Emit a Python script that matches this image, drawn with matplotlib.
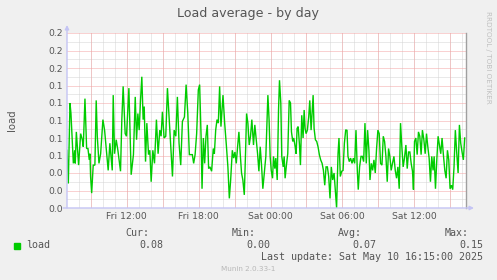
import matplotlib
matplotlib.use('Agg')

import matplotlib.pyplot as plt
import matplotlib.patches as patches
import numpy as np

# hours since Fri 00:00
hours = [7.0, 7.11, 7.25, 7.33, 7.53, 7.64, 7.69, 7.78, 7.97, 8.14, 8.28, 8.36,
         8.5, 8.64, 8.75, 8.86, 8.92, 8.97, 9.06, 9.19, 9.33, 9.44, 9.53, 9.67,
         9.81, 10.0, 10.14, 10.28, 10.44, 10.58, 10.78, 10.86, 10.97, 11.11, 11.25,
         11.47, 11.58, 11.69, 11.86, 11.97, 12.17, 12.36, 12.55, 12.7, 12.81, 12.92,
         13.03, 13.14, 13.25, 13.36, 13.45, 13.56, 13.67, 13.81, 13.92, 14.03, 14.17,
         14.31, 14.47, 14.61, 14.75, 14.86, 14.97, 15.11, 15.25, 15.39, 15.56, 15.7,
         15.81, 15.95, 16.09, 16.22, 16.36, 16.5, 16.64, 16.81, 16.95, 17.09, 17.22,
         17.36, 17.47, 17.58, 17.7, 17.83, 17.97, 18.08, 18.2, 18.28, 18.39, 18.5,
         18.61, 18.72, 18.83, 18.94, 19.08, 19.22, 19.31, 19.42, 19.53, 19.64, 19.75,
         19.86, 20.03, 20.17, 20.31, 20.44, 20.56, 20.67, 20.81, 20.92, 21.03, 21.14,
         21.25, 21.36, 21.47, 21.58, 21.69, 21.81, 21.92, 22.0, 22.11, 22.22, 22.33,
         22.44, 22.58, 22.69, 22.81, 22.92, 23.03, 23.14, 23.25, 23.36, 23.5, 23.61,
         23.68, 23.78, 23.88, 23.97, 24.06, 24.17, 24.25, 24.36, 24.44, 24.56, 24.67,
         24.75, 24.86, 24.94, 25.06, 25.14, 25.22, 25.33, 25.44, 25.56, 25.67, 25.75,
         25.86, 25.94, 26.06, 26.14, 26.22, 26.31, 26.42, 26.5, 26.61, 26.72, 26.81,
         26.89, 26.97, 27.08, 27.19, 27.28, 27.39, 27.47, 27.56, 27.64, 27.75, 27.86,
         27.97, 28.08, 28.19, 28.31, 28.42, 28.53, 28.64, 28.75, 28.86, 28.97, 29.08,
         29.19, 29.31, 29.42, 29.52, 29.64, 29.72, 29.83, 29.95, 30.06, 30.17, 30.28,
         30.39, 30.47, 30.58, 30.69, 30.81, 30.92, 31.03, 31.14, 31.25, 31.33, 31.44,
         31.56, 31.67, 31.78, 31.89, 32.0, 32.11, 32.22, 32.31, 32.42, 32.53, 32.64,
         32.75, 32.86, 32.97, 33.08, 33.19, 33.31, 33.42, 33.53, 33.64, 33.75, 33.86,
         33.97, 34.08, 34.19, 34.31, 34.42, 34.53, 34.64, 34.75, 34.86, 34.97, 35.08,
         35.19, 35.31, 35.42, 35.53, 35.64, 35.75, 35.86, 35.94, 36.03, 36.14, 36.25,
         36.36, 36.47, 36.58, 36.69, 36.81, 36.92, 37.03, 37.14, 37.25, 37.36, 37.47,
         37.58, 37.67, 37.78, 37.89, 38.0, 38.11, 38.22, 38.33, 38.44, 38.56, 38.67,
         38.78, 38.89, 39.0, 39.11, 39.22, 39.33, 39.44, 39.56, 39.67, 39.78, 39.89,
         40.0, 40.11, 40.22]

load = [0.066, 0.028, 0.120, 0.108, 0.051, 0.066, 0.051, 0.087, 0.049, 0.085, 0.078, 0.070,
        0.125, 0.068, 0.068, 0.055, 0.062, 0.036, 0.017, 0.049, 0.049, 0.123, 0.082, 0.051,
        0.062, 0.101, 0.089, 0.068, 0.043, 0.074, 0.043, 0.129, 0.062, 0.078, 0.066,
        0.042, 0.101, 0.139, 0.085, 0.082, 0.137, 0.038, 0.061, 0.127, 0.078, 0.108,
        0.089, 0.123, 0.150, 0.101, 0.116, 0.053, 0.097, 0.061, 0.066, 0.030, 0.066,
        0.051, 0.101, 0.062, 0.089, 0.082, 0.110, 0.080, 0.082, 0.137, 0.097, 0.062,
        0.036, 0.089, 0.082, 0.127, 0.074, 0.049, 0.099, 0.104, 0.141, 0.108, 0.061,
        0.061, 0.061, 0.051, 0.061, 0.085, 0.135, 0.141, 0.082, 0.022, 0.080, 0.051,
        0.082, 0.095, 0.045, 0.047, 0.042, 0.068, 0.062, 0.089, 0.101, 0.097, 0.139,
        0.093, 0.129, 0.097, 0.072, 0.047, 0.011, 0.032, 0.066, 0.057, 0.064, 0.051,
        0.070, 0.087, 0.062, 0.040, 0.032, 0.015, 0.066, 0.108, 0.097, 0.072, 0.082,
        0.101, 0.072, 0.095, 0.078, 0.062, 0.042, 0.070, 0.049, 0.022, 0.043, 0.059,
        0.087, 0.129, 0.101, 0.059, 0.043, 0.034, 0.059, 0.045, 0.057, 0.032, 0.112,
        0.146, 0.120, 0.059, 0.047, 0.059, 0.034, 0.049, 0.062, 0.123, 0.120, 0.087,
        0.076, 0.080, 0.070, 0.062, 0.091, 0.093, 0.072, 0.049, 0.106, 0.080, 0.112,
        0.091, 0.085, 0.089, 0.104, 0.123, 0.089, 0.108, 0.129, 0.091, 0.078, 0.076,
        0.070, 0.061, 0.055, 0.051, 0.043, 0.026, 0.047, 0.047, 0.036, 0.011, 0.047,
        0.032, 0.040, 0.019, 0.000, 0.062, 0.080, 0.036, 0.042, 0.043, 0.074, 0.089,
        0.089, 0.059, 0.053, 0.057, 0.051, 0.057, 0.051, 0.089, 0.043, 0.021, 0.047,
        0.059, 0.059, 0.053, 0.097, 0.051, 0.089, 0.066, 0.032, 0.051, 0.043, 0.055,
        0.040, 0.068, 0.089, 0.085, 0.051, 0.049, 0.082, 0.076, 0.059, 0.030, 0.068,
        0.059, 0.043, 0.051, 0.059, 0.043, 0.034, 0.047, 0.022, 0.097, 0.070, 0.047,
        0.057, 0.072, 0.045, 0.064, 0.064, 0.051, 0.042, 0.021, 0.076, 0.080, 0.061,
        0.087, 0.082, 0.061, 0.089, 0.078, 0.062, 0.085, 0.070, 0.057, 0.030, 0.059,
        0.043, 0.059, 0.022, 0.055, 0.082, 0.072, 0.062, 0.080, 0.061, 0.043, 0.034,
        0.066, 0.055, 0.022, 0.026, 0.021, 0.047, 0.089, 0.062, 0.040, 0.095, 0.074,
        0.064, 0.055, 0.080]

x_tick_pos = [12, 18, 24, 30, 36]
x_tick_labels = ['Fri 12:00', 'Fri 18:00', 'Sat 00:00', 'Sat 06:00', 'Sat 12:00']
stat_names = ['Cur:', 'Min:', 'Avg:', 'Max:']
stat_values = ['0.08', '0.00', '0.07', '0.15']

W, H = 497, 280
X_START, X_END = 7.0, 40.33
LINE_GREEN = '#00cc00'
AXIS_BLUE = '#c4c4f4'
TEXT = '#555555'


def fx(x):
    return x / W


def fy(y):
    return 1 - y / H


fig = plt.figure(figsize=(W / 100, H / 100), dpi=100, facecolor='#f0f0f0')
ax = fig.add_axes([fx(67), fy(208), 399 / W, 175 / H])
ax.set_facecolor('white')
ax.set_xlim(X_START, X_END)
ax.set_ylim(0, 0.2)

dots = (0, (1, 1))
# minor grid
for h in np.arange(8, 41, 1):
    ax.axvline(h, color='#d4d4d4', lw=0.72, ls=dots, zorder=1)
for v in np.arange(0.01, 0.2, 0.02):
    ax.axhline(v, color='#d4d4d4', lw=0.72, ls=dots, zorder=1)
# major grid
for h in np.arange(9, 41, 3):
    ax.axvline(h, color='#f4a4a4', lw=0.72, ls=dots, zorder=2)
for v in np.arange(0.02, 0.201, 0.02):
    ax.axhline(v, color='#f4a4a4', lw=0.72, ls=dots, zorder=2)

ax.plot(hours, load, color=LINE_GREEN, lw=1.0, zorder=3, solid_joinstyle='miter')

ax.set_xticks(x_tick_pos, x_tick_labels)
ax.set_yticks(np.arange(0, 0.201, 0.02))
ax.yaxis.set_major_formatter(matplotlib.ticker.FormatStrFormatter('%.1f'))
ax.tick_params(length=0, labelsize=6.7, labelcolor=TEXT, pad=3)

for s in ['top', 'left', 'bottom']:
    ax.spines[s].set_visible(False)
ax.spines['right'].set_color('#a0a0a0')
ax.spines['right'].set_linewidth(1.0)

# axis lines with arrows
ax.annotate('', xy=(0, 1 + 8 / 175), xytext=(0, 0), xycoords='axes fraction',
            arrowprops=dict(arrowstyle='-|>', color=AXIS_BLUE, lw=1.0,
                            mutation_scale=6, shrinkA=0, shrinkB=0), annotation_clip=False)
ax.annotate('', xy=(1 + 8 / 399, 0), xytext=(-4 / 399, 0), xycoords='axes fraction',
            arrowprops=dict(arrowstyle='-|>', color=AXIS_BLUE, lw=1.0,
                            mutation_scale=6, shrinkA=0, shrinkB=0), annotation_clip=False)

fig.text(fx(248), fy(13), 'Load average - by day', ha='center', va='center',
         fontsize=9.1, color=TEXT)
fig.text(fx(12), fy(120), 'load', ha='center', va='center', rotation=90,
         fontsize=7.3, color=TEXT)
fig.text(fx(488), fy(57), 'RRDTOOL / TOBI OETIKER', ha='center', va='center',
         rotation=270, fontsize=5.2, color='#c0c0c0')

mono = 'DejaVu Sans Mono'
fig.patches.append(patches.Rectangle((fx(14), fy(249)), 6 / W, 6 / H,
                                     transform=fig.transFigure, color=LINE_GREEN))
fig.text(fx(26), fy(245.5), 'load', ha='left', va='center', family=mono,
         fontsize=7.2, color=TEXT)
for name, val, xr in zip(stat_names, stat_values, [149, 256, 362, 469]):
    fig.text(fx(xr), fy(233.5), name, ha='right', va='center', family=mono,
             fontsize=7.2, color=TEXT)
    fig.text(fx(xr + 14), fy(245.5), val, ha='right', va='center', family=mono,
             fontsize=7.2, color=TEXT)
fig.text(fx(483), fy(257.5), 'Last update: Sat May 10 16:15:00 2025', ha='right',
         va='center', family=mono, fontsize=7.2, color=TEXT)
fig.text(fx(248.5), fy(269), 'Munin 2.0.33-1', ha='center', va='center',
         fontsize=5.2, color='#b8b8b8')

fig.savefig('out.png', dpi=100, facecolor=fig.get_facecolor())
